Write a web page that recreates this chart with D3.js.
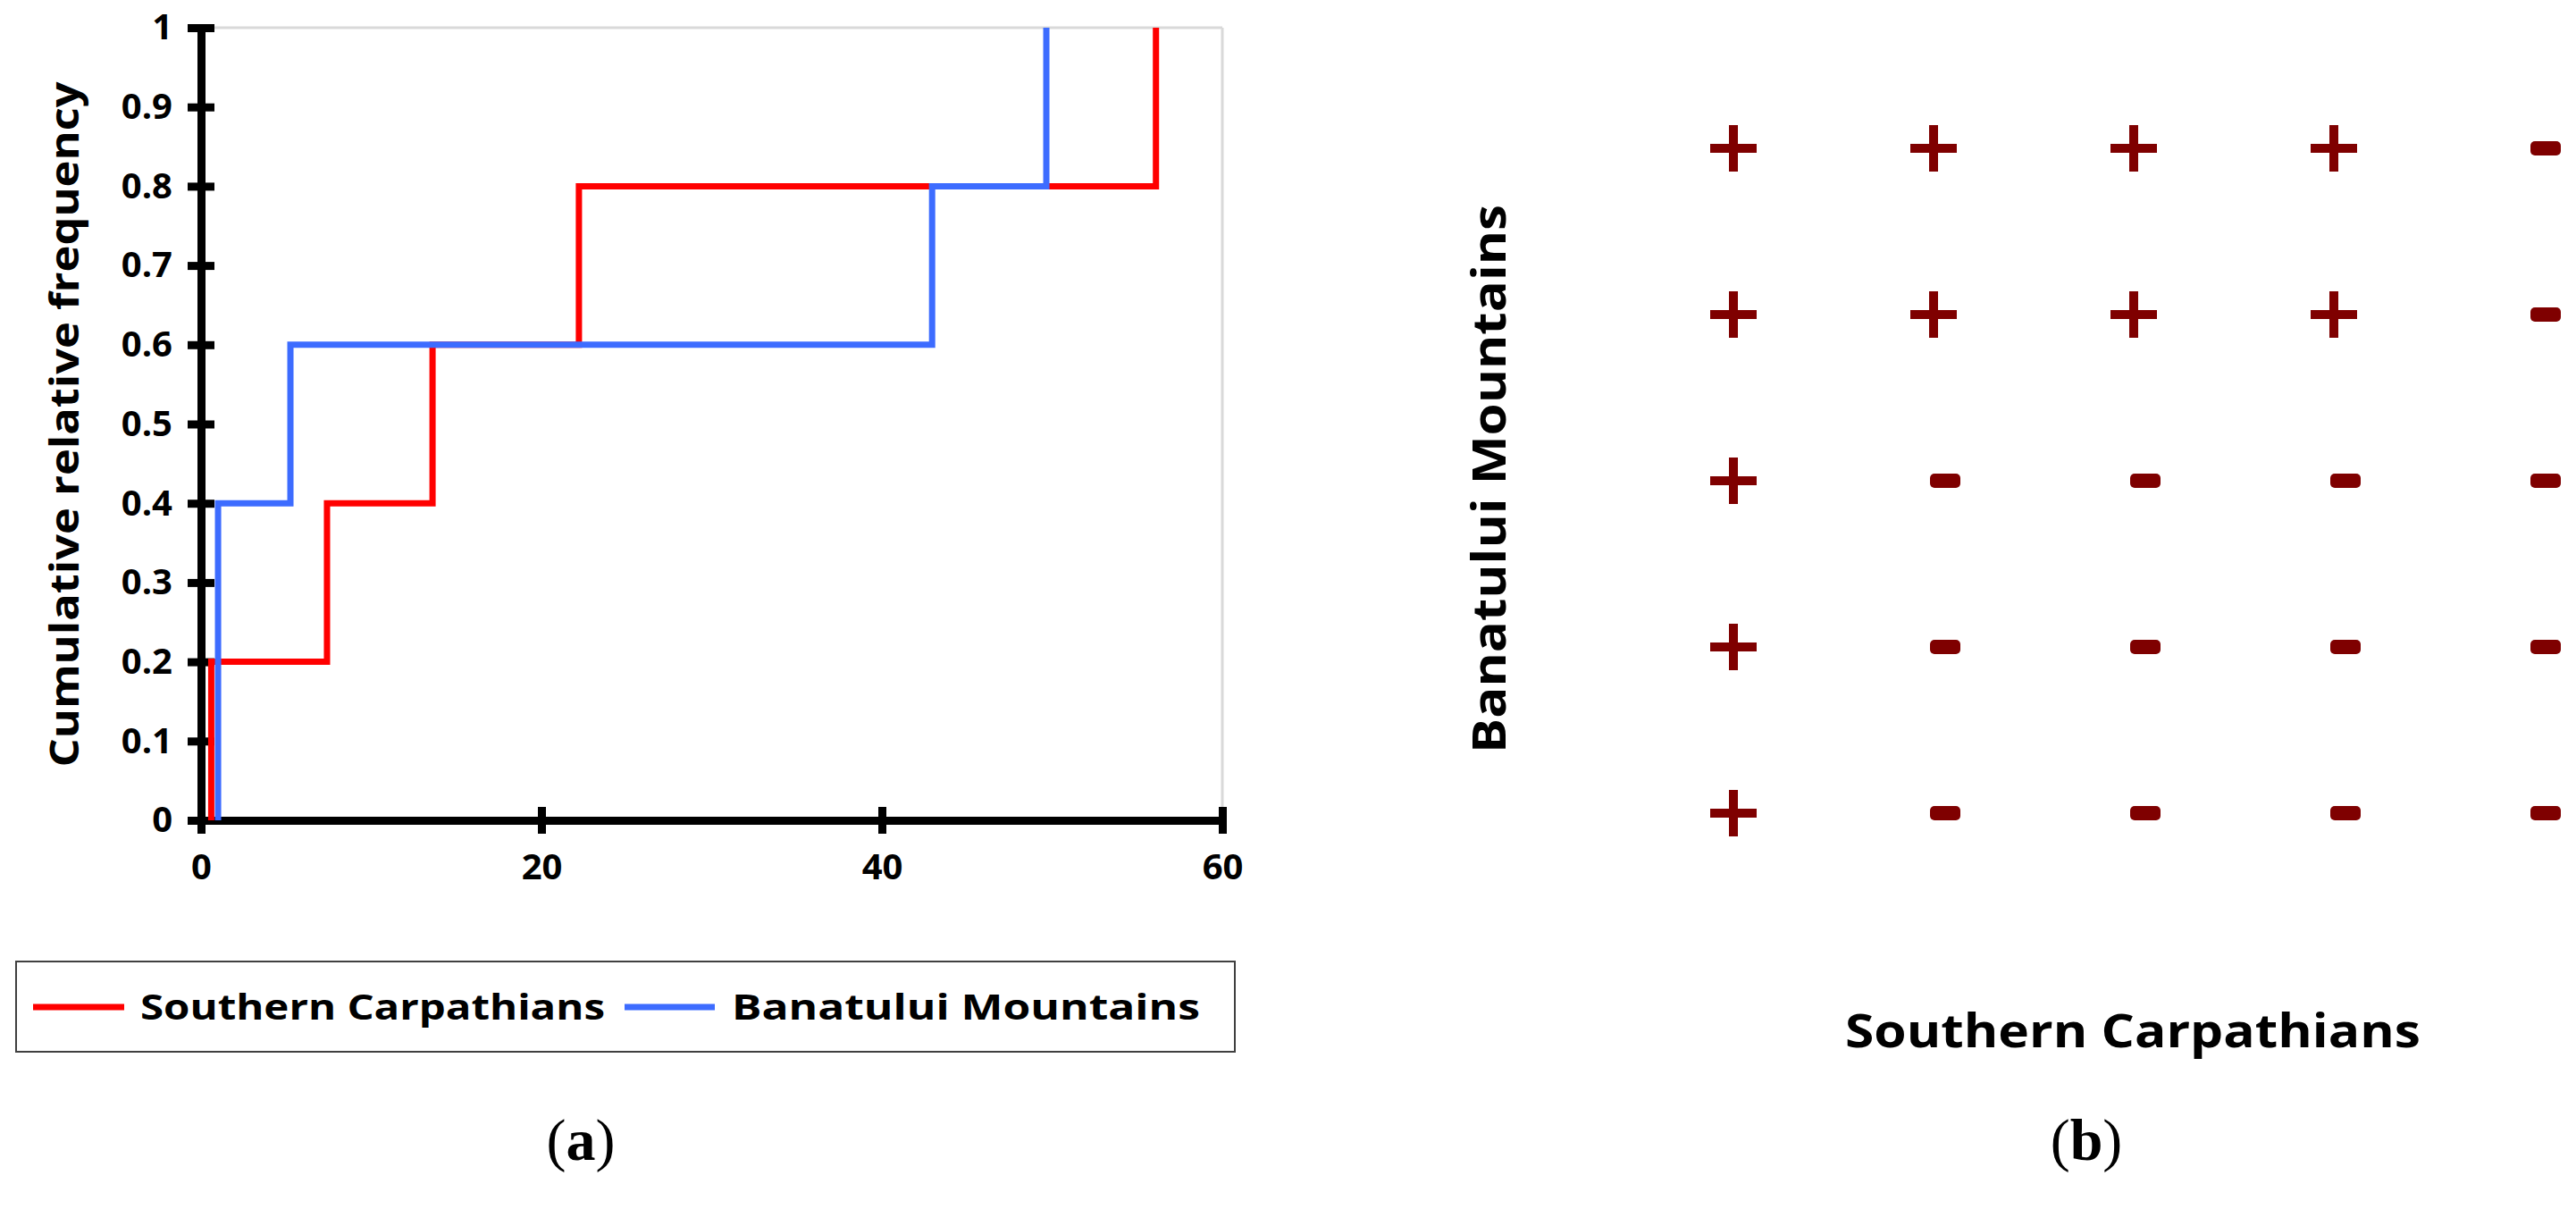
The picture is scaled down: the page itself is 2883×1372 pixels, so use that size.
<!DOCTYPE html>
<html><head><meta charset="utf-8">
<script src="https://cdn.jsdelivr.net/npm/d3@7"></script>
<style>body{margin:0;background:#fff}svg{display:block}</style>
</head><body>
<script>
// ---- data ----
const redX = [0.6, 7.4, 13.6, 22.2, 56.1];
const redY = [0.2, 0.4, 0.6, 0.8, 1.0];
const blueX = [1.0, 5.25, 42.95, 49.66];
const blueY = [0.4, 0.6, 0.8, 1.0];
const yTicks = [0,0.1,0.2,0.3,0.4,0.5,0.6,0.7,0.8,0.9,1];
const xTicks = [0,20,40,60];
const seriesNames = ["Southern Carpathians","Banatului Mountains"];
const gridRows = [0,1,2,3,4];
const gridCols = [0,1,2,3,4];
// signs matrix: row 0 = top
const signs = [
  ["+","+","+","+","-"],
  ["+","+","+","+","-"],
  ["+","-","-","-","-"],
  ["+","-","-","-","-"],
  ["+","-","-","-","-"]
];

const W=2883,H=1372;
const svg=d3.select("body").append("svg").attr("width",W).attr("height",H);
const font="'Open Sans', sans-serif";

// ---- panel a ----
const x=d3.scaleLinear().domain([0,60]).range([225,1368]);
const y=d3.scaleLinear().domain([0,1]).range([918,31]);
svg.append("line").attr("x1",x(0)).attr("x2",x(60)).attr("y1",y(1)).attr("y2",y(1)).attr("stroke","#d9d9d9").attr("stroke-width",3);
svg.append("line").attr("x1",x(60)).attr("x2",x(60)).attr("y1",y(1)).attr("y2",y(0)).attr("stroke","#d9d9d9").attr("stroke-width",3);

const ya=svg.append("g").attr("transform",`translate(${x(0)},0)`)
  .call(d3.axisLeft(y).tickValues(yTicks).tickSize(15).tickFormat(d=>d===0||d===1?d:d3.format(".1f")(d)));
const xa=svg.append("g").attr("transform",`translate(0,${y(0)})`)
  .call(d3.axisBottom(x).tickValues(xTicks).tickSize(15));
[ya,xa].forEach(g=>{
  g.select(".domain").attr("stroke","#000").attr("stroke-width",9);
  g.selectAll(".tick line").attr("stroke","#000").attr("stroke-width",9);
  g.selectAll(".tick text").attr("font-family",font).attr("font-weight","bold").attr("font-size",40).attr("fill","#000");
});
ya.selectAll(".tick line").attr("x1",15);
ya.selectAll(".tick text").attr("x",-32);
xa.selectAll(".tick line").attr("y1",-15);
xa.selectAll(".tick text").attr("y",38);

function steps(xs,ys){const p=[];let prev=0;xs.forEach((v,i)=>{p.push([v,prev]);p.push([v,ys[i]]);prev=ys[i];if(i<xs.length-1)p.push([xs[i+1],prev]);});return p;}
const line=d3.line().x(d=>x(d[0])).y(d=>y(d[1]));
svg.append("path").attr("d",line(steps(redX,redY))).attr("fill","none").attr("stroke","#ff0000").attr("stroke-width",7);
svg.append("path").attr("d",line(steps(blueX,blueY))).attr("fill","none").attr("stroke","#3d6cff").attr("stroke-width",7);

svg.append("text").attr("transform","translate(88,475) rotate(-90)").attr("text-anchor","middle")
  .attr("font-family",font).attr("font-weight","bold").attr("font-size",44).attr("textLength",767).attr("lengthAdjust","spacingAndGlyphs").text("Cumulative relative frequency");

// legend
svg.append("rect").attr("x",18).attr("y",1076).attr("width",1364).attr("height",101).attr("fill","none").attr("stroke","#404040").attr("stroke-width",2);
const lg=[{c:"#ff0000",x1:37,x2:139,tx:157,tl:520},{c:"#3d6cff",x1:699,x2:800,tx:819,tl:524}];
lg.forEach((d,i)=>{
  svg.append("line").attr("x1",d.x1).attr("x2",d.x2).attr("y1",1127).attr("y2",1127).attr("stroke",d.c).attr("stroke-width",7);
  svg.append("text").attr("x",d.tx).attr("y",1141).attr("font-family",font).attr("font-weight","bold").attr("font-size",40)
    .attr("textLength",d.tl).attr("lengthAdjust","spacingAndGlyphs").text(seriesNames[i]);
});
const lab=svg.append("text").attr("x",650).attr("y",1298).attr("text-anchor","middle").attr("font-family","'Liberation Serif', serif").attr("font-size",66);
lab.append("tspan").text("(");lab.append("tspan").attr("font-weight","bold").text("a");lab.append("tspan").text(")");

// ---- panel b ----
const cx=d3.scaleLinear().domain([0,4]).range([1940,2836]);
const cy=d3.scaleLinear().domain([0,4]).range([166,910]);
const col="#7f0000";
gridRows.forEach(r=>gridCols.forEach(c=>{
  const s=signs[r][c],X=cx(c),Y=cy(r);
  if(s==="+"){
    svg.append("rect").attr("x",X-26).attr("y",Y-5).attr("width",52).attr("height",10).attr("fill",col);
    svg.append("rect").attr("x",X-5).attr("y",Y-26).attr("width",10).attr("height",52).attr("fill",col);
  } else {
    svg.append("rect").attr("x",X+13-17).attr("y",Y-8).attr("width",34).attr("height",16).attr("rx",5).attr("fill",col);
  }
}));
svg.append("text").attr("transform","translate(1685,536) rotate(-90)").attr("text-anchor","middle")
  .attr("font-family",font).attr("font-weight","bold").attr("font-size",52).attr("textLength",614).attr("lengthAdjust","spacingAndGlyphs").text("Banatului Mountains");
svg.append("text").attr("x",2387).attr("y",1172).attr("text-anchor","middle")
  .attr("font-family",font).attr("font-weight","bold").attr("font-size",52).attr("textLength",644).attr("lengthAdjust","spacingAndGlyphs").text("Southern Carpathians");
const lb=svg.append("text").attr("x",2335).attr("y",1298).attr("text-anchor","middle").attr("font-family","'Liberation Serif', serif").attr("font-size",66);
lb.append("tspan").text("(");lb.append("tspan").attr("font-weight","bold").text("b");lb.append("tspan").text(")");
</script>
</body></html>
